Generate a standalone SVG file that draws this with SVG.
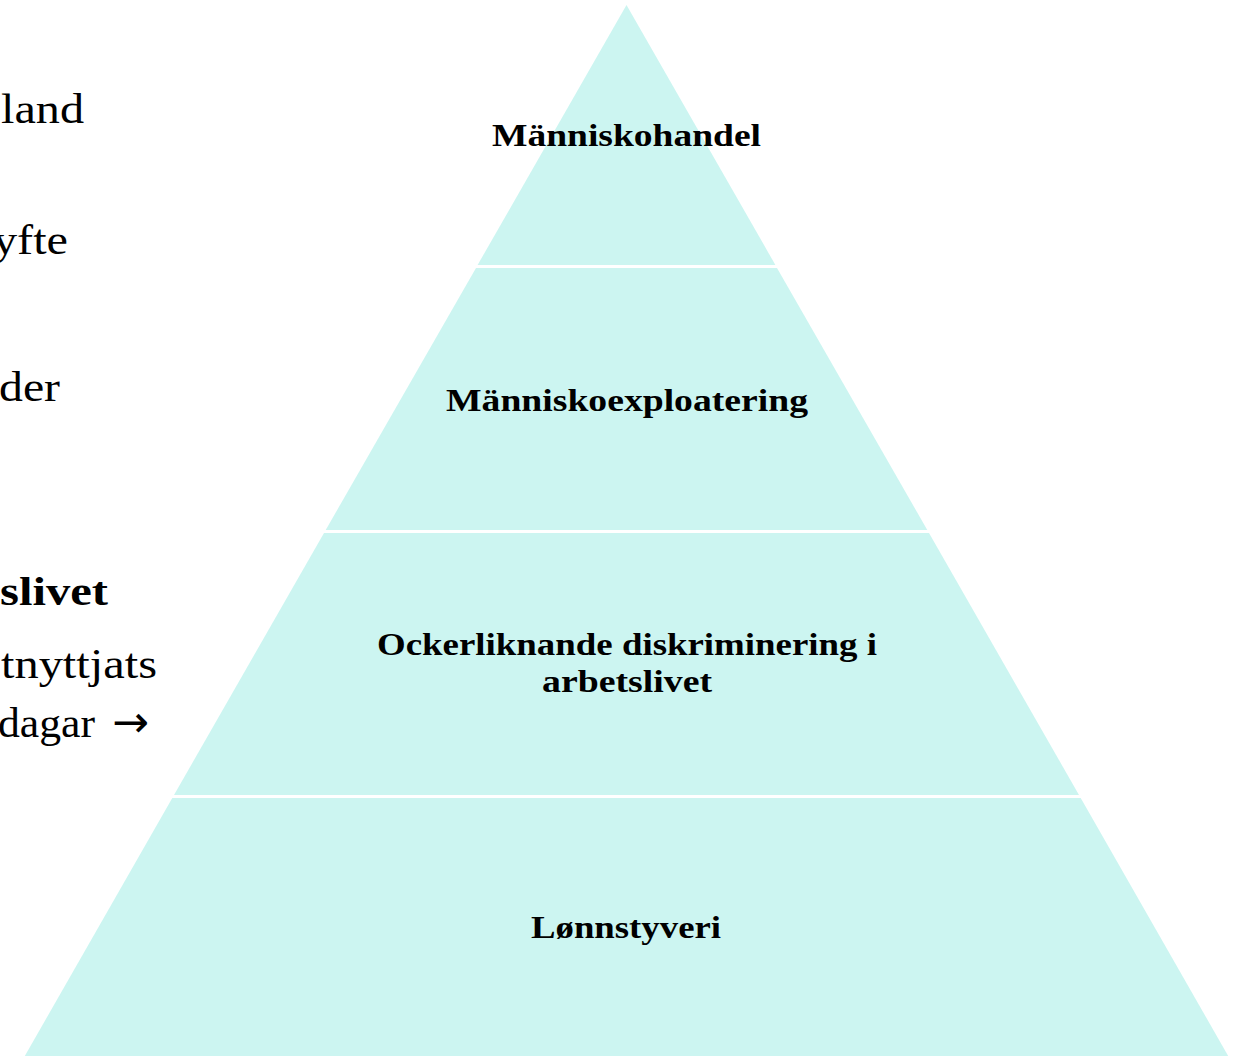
<svg xmlns="http://www.w3.org/2000/svg" width="1243" height="1056" viewBox="0 0 1243 1056">
  <style>
    .layer { fill: #ccf5f1; }
    .lbl { font-family: "Liberation Serif", "DejaVu Serif", serif; font-weight: bold; font-size: 32px; fill: #000; text-anchor: middle; }
    .side { font-family: "Liberation Serif", "DejaVu Serif", serif; font-size: 42px; fill: #000; text-anchor: end; }
    .sideb { font-family: "Liberation Serif", "DejaVu Serif", serif; font-size: 40px; font-weight: bold; fill: #000; text-anchor: end; }
    .arrow { font-family: "DejaVu Sans", sans-serif; font-size: 44px; }
  </style>
  <rect width="1243" height="1056" fill="#ffffff"/>
  <g id="background-text">
    <text class="side" x="84" y="123" textLength="83" lengthAdjust="spacingAndGlyphs">land</text>
    <text class="side" x="68" y="254" textLength="75" lengthAdjust="spacingAndGlyphs">yfte</text>
    <text class="side" x="60" y="401" textLength="61" lengthAdjust="spacingAndGlyphs">der</text>
    <text class="sideb" x="108" y="605" textLength="108" lengthAdjust="spacingAndGlyphs">slivet</text>
    <text class="side" x="157" y="678" textLength="156" lengthAdjust="spacingAndGlyphs">tnyttjats</text>
    <text class="side" x="-2" y="737" style="text-anchor:start" textLength="97" lengthAdjust="spacingAndGlyphs">dagar</text>
    <text class="arrow" x="112" y="737">→</text>
  </g>
  <g id="layer-1">
    <polygon class="layer" points="626.5,5 775.4,265 477.6,265"/>
    <text class="lbl" x="626.5" y="146" textLength="269" lengthAdjust="spacingAndGlyphs">Människohandel</text>
  </g>
  <g id="layer-2">
    <polygon class="layer" points="476,268 777,268 927.3,530 325.7,530"/>
    <text class="lbl" x="627" y="411" textLength="362" lengthAdjust="spacingAndGlyphs">Människoexploatering</text>
  </g>
  <g id="layer-3">
    <polygon class="layer" points="324,533 929,533 1079,795 174,795"/>
    <text class="lbl" x="627" y="655" textLength="500" lengthAdjust="spacingAndGlyphs">Ockerliknande diskriminering i</text>
    <text class="lbl" x="627" y="692" textLength="170" lengthAdjust="spacingAndGlyphs">arbetslivet</text>
  </g>
  <g id="layer-4">
    <polygon class="layer" points="172.3,798 1080.7,798 1228.2,1056 24.8,1056"/>
    <text class="lbl" x="626" y="938" textLength="190" lengthAdjust="spacingAndGlyphs">Lønnstyveri</text>
  </g>
  <g id="connectors"></g>
</svg>
